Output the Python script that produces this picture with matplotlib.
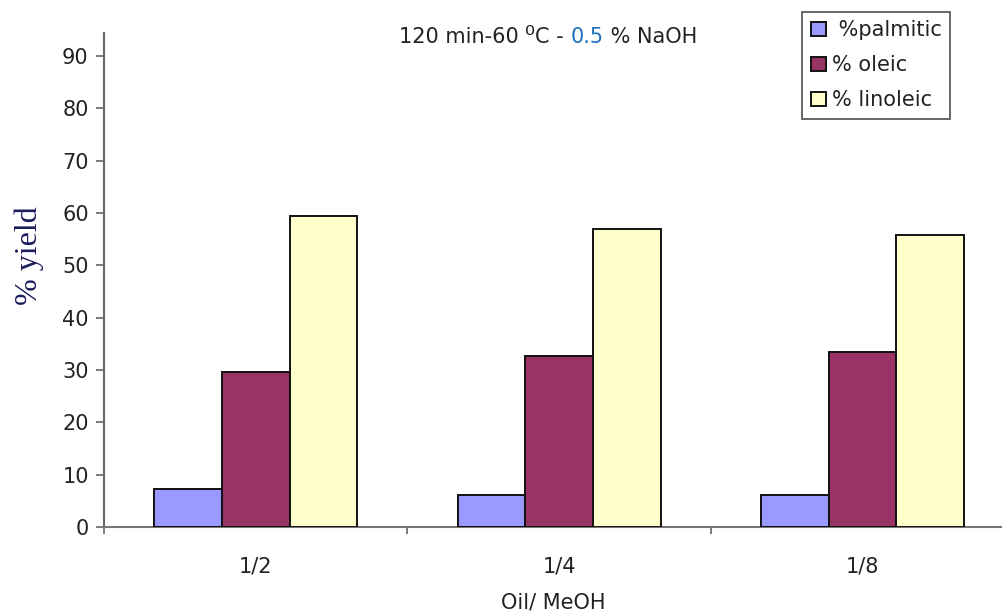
import numpy as np
import matplotlib.pyplot as plt
from matplotlib.patches import Patch

# ---------- data ----------
ratios = ["1/2", "1/4", "1/8"]
palmitic = [7.3, 6.1, 6.1]
oleic = [29.6, 32.7, 33.5]
linoleic = [59.4, 56.9, 55.9]

series = [
    (" %palmitic", palmitic, "#9999FF"),
    ("% oleic", oleic, "#993366"),
    ("% linoleic", linoleic, "#FFFFCC"),
]

plt.rcParams["font.family"] = ["DejaVu Sans"]
FS = 15

fig = plt.figure(figsize=(10.03, 6.12), dpi=100)
ax = fig.add_axes([0.1037, 0.1389, 0.8963, 0.807])

x = np.arange(len(ratios))
w = 0.223
for i, (lab, vals, col) in enumerate(series):
    ax.bar(x + (i - 1) * w, vals, w, color=col, edgecolor="#111111",
           linewidth=1.4, label=lab, zorder=3)

ax.set_xlim(-0.5, 2.463)
ax.set_ylim(0, 94.4)
ax.set_yticks(np.arange(0, 91, 10))
ax.set_xticks(x)
ax.set_xticklabels(ratios)
ax.set_xticks([-0.5, 0.5, 1.5], minor=True)
ax.tick_params(axis="x", which="major", length=0, pad=21, labelsize=FS, labelcolor="#222222")
ax.tick_params(axis="x", which="minor", length=5, width=1.2, color="#666666")
ax.tick_params(axis="y", length=6, width=1.2, color="#666666", labelsize=FS,
               labelcolor="#222222", pad=5)

for s in ["top", "right"]:
    ax.spines[s].set_visible(False)
ax.spines["left"].set_color("#666666")
ax.spines["left"].set_linewidth(1.5)
ax.spines["bottom"].set_color("#777777")
ax.spines["bottom"].set_linewidth(1.5)

ax.set_xlabel("Oil/ MeOH", fontsize=FS, color="#222222", labelpad=12)
ax.set_ylabel("% yield", fontsize=23, family=["Liberation Serif", "DejaVu Serif"],
              color="#1c1c5c", va="center")
ax.yaxis.set_label_coords(-0.083, 0.549)

handles = [Patch(facecolor=c, edgecolor="#111111", linewidth=1.4) for _, _, c in series]
leg = ax.legend(handles, [s[0] for s in series], loc="upper right",
                bbox_to_anchor=(950 / 1003, 1 - 12 / 612), bbox_transform=fig.transFigure,
                fontsize=FS, frameon=True, fancybox=False, edgecolor="#222222",
                handlelength=0.72, handleheight=0.72, handletextpad=0.3,
                labelspacing=0.72, borderpad=0.4, borderaxespad=0)
leg.get_frame().set_linewidth(1.2)
for t in leg.get_texts():
    t.set_color("#222222")

# title built from pieces so "0.5" can be coloured
fig.canvas.draw()
r = fig.canvas.get_renderer()
parts = [("120 min-60 ", "#222222", FS), ("⁰", "#222222", FS + 3),
         ("C - ", "#222222", FS), ("0.5", "#1f6fbf", FS), (" % NaOH", "#222222", FS)]
texts = []
for s, c, fs in parts:
    texts.append(fig.text(0, 0, s, color=c, fontsize=fs, va="baseline"))
widths = [t.get_window_extent(r).width for t in texts]
total = sum(widths)
x0 = 548 - total / 2
ybase = 612 - 43
for t, wd in zip(texts, widths):
    t.set_position((x0 / 1003, ybase / 612))
    x0 += wd

fig.savefig("out.png", dpi=100)
